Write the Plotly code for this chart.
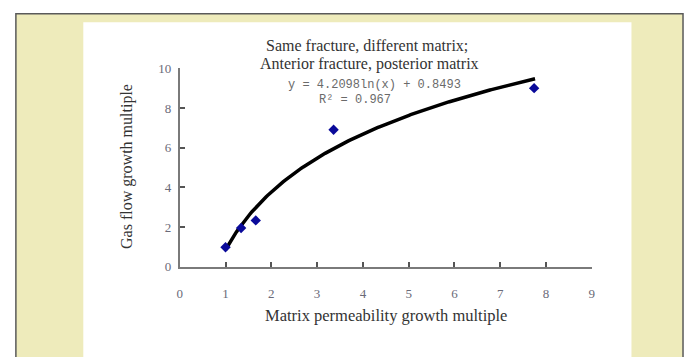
import numpy as np
import plotly.graph_objects as go

# Measured points
perm_multiple = [1.0, 1.34, 1.66, 3.36, 7.74]
gas_multiple = [0.98, 1.95, 2.33, 6.9, 9.0]

# Logarithmic trend line y = a*ln(x) + b
fit_a = 4.2098
fit_b = 0.8493
fit_r2 = 0.967
fit_x_range = [1.0, 7.76]

x_ticks = list(range(0, 10))
y_ticks = [0, 2, 4, 6, 8, 10]

title_lines = ["Same fracture, different matrix;", "Anterior fracture, posterior matrix"]
x_title = "Matrix permeability growth multiple"
y_title = "Gas flow growth multiple"

W, H = 688, 357
SERIF = "Liberation Serif, Times New Roman, serif"
MONO = "Liberation Mono, DejaVu Sans Mono, monospace"

def px(x):
    return x / W

def py(y):
    return 1 - y / H

trend_x = np.linspace(fit_x_range[0], fit_x_range[1], 200)
trend_y = fit_a * np.log(trend_x) + fit_b

fig = go.Figure()
fig.add_trace(go.Scatter(
    x=trend_x, y=trend_y, mode="lines",
    line=dict(color="black", width=3.5), hoverinfo="skip", showlegend=False,
))
fig.add_trace(go.Scatter(
    x=perm_multiple, y=gas_multiple, mode="markers",
    marker=dict(symbol="diamond", size=8, color="#0a0a9a"),
    showlegend=False,
))

axis_common = dict(
    showgrid=False, zeroline=False, showline=True,
    linecolor="#7a7a7a", linewidth=2,
    ticks="inside", ticklen=5, tickwidth=2, tickcolor="#555555",
    tickfont=dict(family=SERIF, size=13, color="#6a6a78"),
)

fig.update_layout(
    width=W, height=H,
    margin=dict(l=0, r=0, t=0, b=0),
    paper_bgcolor="white", plot_bgcolor="rgba(0,0,0,0)",
    xaxis=dict(range=[0, 9], tickvals=x_ticks, domain=[px(178.3), px(594)],
               ticklabelstandoff=14, anchor="y", **axis_common),
    yaxis=dict(range=[0, 10], tickvals=y_ticks, domain=[py(271), py(64)],
               ticklabelstandoff=4, anchor="x", **axis_common),
    font=dict(family=SERIF),
)

# Page frame: beige border with a white panel holding the chart
shapes = [
    dict(type="rect", xref="paper", yref="paper", x0=px(13), x1=px(686), y0=py(380), y1=py(7),
         fillcolor="#eeebbb", line=dict(color="#5a5a5a", width=1.5), layer="below"),
    dict(type="rect", xref="paper", yref="paper", x0=px(81), x1=px(634), y0=py(380), y1=py(16),
         fillcolor="white", line=dict(width=0), layer="below"),
]
fig.update_layout(shapes=shapes)

annotations = [
    dict(text=title_lines[0], x=px(367), y=py(40)),
    dict(text=title_lines[1], x=px(370), y=py(60)),
    dict(text=f"y = {fit_a:.4f}ln(x) + {fit_b:.4f}", x=px(375), y=py(81),
         font=dict(family=MONO, size=12, color="#6a6a6a")),
    dict(text=f"R² = {fit_r2:.3f}", x=px(355), y=py(97),
         font=dict(family=MONO, size=12, color="#6a6a6a")),
    dict(text=x_title, x=px(386), y=py(322), font=dict(family=SERIF, size=16.5, color="#333333")),
    dict(text=y_title, x=px(125), y=py(166), textangle=-90),
]
for a in annotations:
    a.setdefault("font", dict(family=SERIF, size=16, color="#333333"))
    a.update(xref="paper", yref="paper", showarrow=False, xanchor="center", yanchor="middle")
fig.update_layout(annotations=annotations)

fig.write_html("out.html")
